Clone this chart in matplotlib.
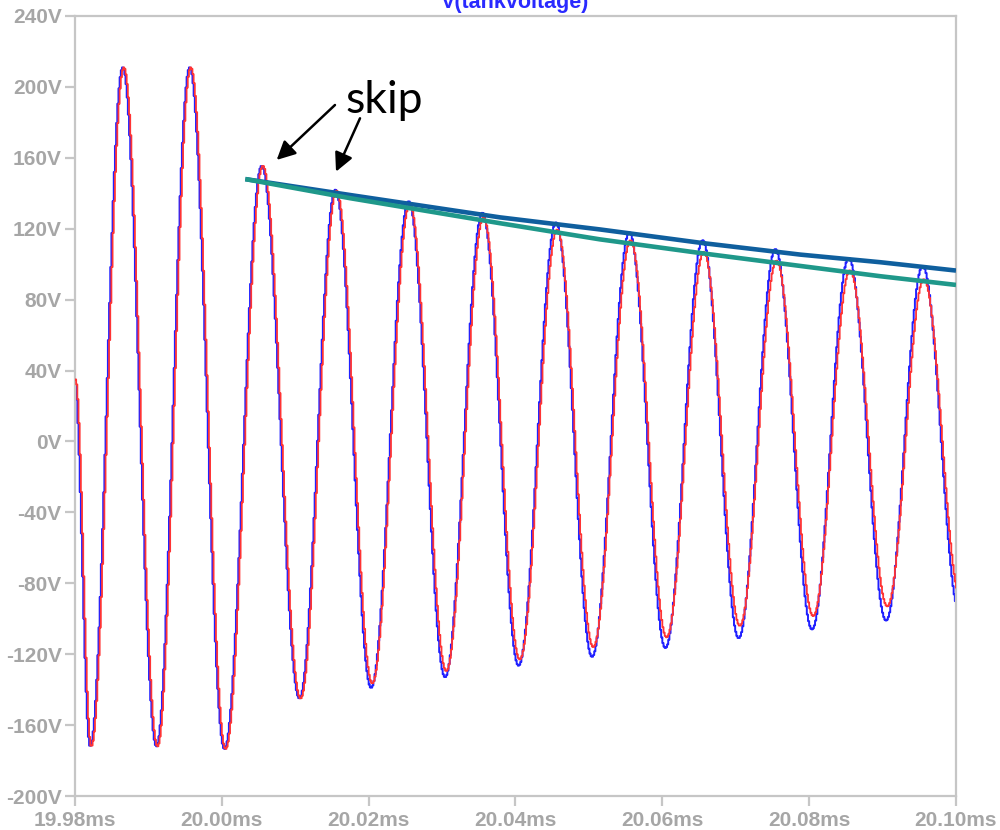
import numpy as np
import matplotlib
matplotlib.use("Agg")
import matplotlib.pyplot as plt

# ---- data ----
# times (ms) of the start point and of successive troughs / peaks
extrema_t = [19.98000, 19.98214, 19.98658, 19.99117, 19.99570, 20.00043, 20.00551,
             20.01065, 20.01555, 20.02041, 20.02553, 20.03049, 20.03557, 20.04050,
             20.04560, 20.05051, 20.05560, 20.06050, 20.06558, 20.07048, 20.07548,
             20.08047, 20.08547, 20.09056, 20.09554, 20.10056]
blue_v = [35, -172, 211, -172, 211, -173.5, 155.5, -145, 142, -139, 135.5, -133, 129,
          -126.5, 123.5, -121.5, 118, -116.5, 113.5, -111, 108.5, -106, 103.5, -101, 99, -96]
red_v = [35, -172, 211, -172, 211, -173.5, 155.5, -145, 141.5, -136.5, 134, -129.5, 126.5,
         -123, 119.5, -116, 113.5, -110.5, 107, -104, 102, -98.5, 96.5, -93, 91.5, -88]

# decay envelope lines drawn over the plot
env_t = [20.0032, 20.0175, 20.0379, 20.0515, 20.0655, 20.0788, 20.0897, 20.1000]
env_blue_v = [148.0, 139.0, 126.4, 119.6, 111.9, 105.4, 101.1, 96.4]
env_teal_v = [148.0, 137.2, 123.1, 114.0, 106.1, 99.0, 93.2, 88.3]

x_ticks = [19.98, 20.00, 20.02, 20.04, 20.06, 20.08, 20.10]
y_ticks = [-200, -160, -120, -80, -40, 0, 40, 80, 120, 160, 200, 240]
title = "V(tankvoltage)"
note = "skip"


def trace(tk, vk, dt):
    """Draw a waveform through the read extrema with half-cosine segments."""
    tk = np.asarray(tk)
    vk = np.asarray(vk, dtype=float)
    t = np.arange(tk[0], tk[-1], dt)
    idx = np.clip(np.searchsorted(tk, t, side="right") - 1, 0, len(tk) - 2)
    f = (t - tk[idx]) / (tk[idx + 1] - tk[idx])
    v = vk[idx] + (vk[idx + 1] - vk[idx]) * (1 - np.cos(np.pi * f)) / 2
    return t, v


tick_font = ["Liberation Sans Narrow", "Liberation Sans", "DejaVu Sans"]
grey = "#a6a6a6"
spine_c = "#c6c6c6"

fig = plt.figure(figsize=(10, 8.3), dpi=100)
ax = fig.add_axes([0.075, 34 / 830, 0.881, 780 / 830])

tb, vb = trace(extrema_t, blue_v, 0.00016)
tr, vr = trace(extrema_t, red_v, 0.00016)
ax.plot(tb, vb, color="#2020ff", lw=1.4, drawstyle="steps-pre", zorder=2)
ax.plot(tr, vr, color="#ff3434", lw=1.3, drawstyle="steps-post", zorder=3)

ax.plot(env_t, env_blue_v, color="#0f5f9e", lw=3.3, solid_capstyle="butt", zorder=4)
ax.plot(env_t, env_teal_v, color="#1f988a", lw=3.3, solid_capstyle="butt", zorder=5)

ax.set_xlim(19.98, 20.10)
ax.set_ylim(-200, 240)
ax.set_xticks(x_ticks)
ax.set_xticklabels([f"{x:.2f}ms" for x in x_ticks])
ax.set_yticks(y_ticks)
ax.set_yticklabels([f"{y}V" for y in y_ticks])

for s in ax.spines.values():
    s.set_color(spine_c)
    s.set_linewidth(1.6)
ax.tick_params(axis="both", colors=spine_c, width=1.6, length=7.2)
ax.tick_params(axis="y", pad=2.5)
ax.tick_params(axis="x", pad=3.5)
for lab in ax.get_xticklabels() + ax.get_yticklabels():
    lab.set_color(grey)
    lab.set_fontfamily(tick_font)
    lab.set_fontsize(15)
    lab.set_fontweight("bold")

fig.text(0.5155, 1 - 8 / 830, title, ha="center", va="baseline", color="#2a2aff",
         fontsize=15.5, fontweight="bold", family=tick_font)

# annotation
ax.text(20.02209, 185.1, note, ha="center", va="baseline", fontsize=32,
        family=["Lato", "DejaVu Sans"], color="black", zorder=6)
arrow = dict(arrowstyle="-|>", color="black", lw=1.8, mutation_scale=28,
             shrinkA=0, shrinkB=0)
ax.annotate("", xy=(20.00747, 158.8), xytext=(20.01541, 189.8), arrowprops=arrow, zorder=6)
ax.annotate("", xy=(20.01555, 152.2), xytext=(20.01882, 182.3), arrowprops=arrow, zorder=6)

fig.savefig("out.png", dpi=100)
